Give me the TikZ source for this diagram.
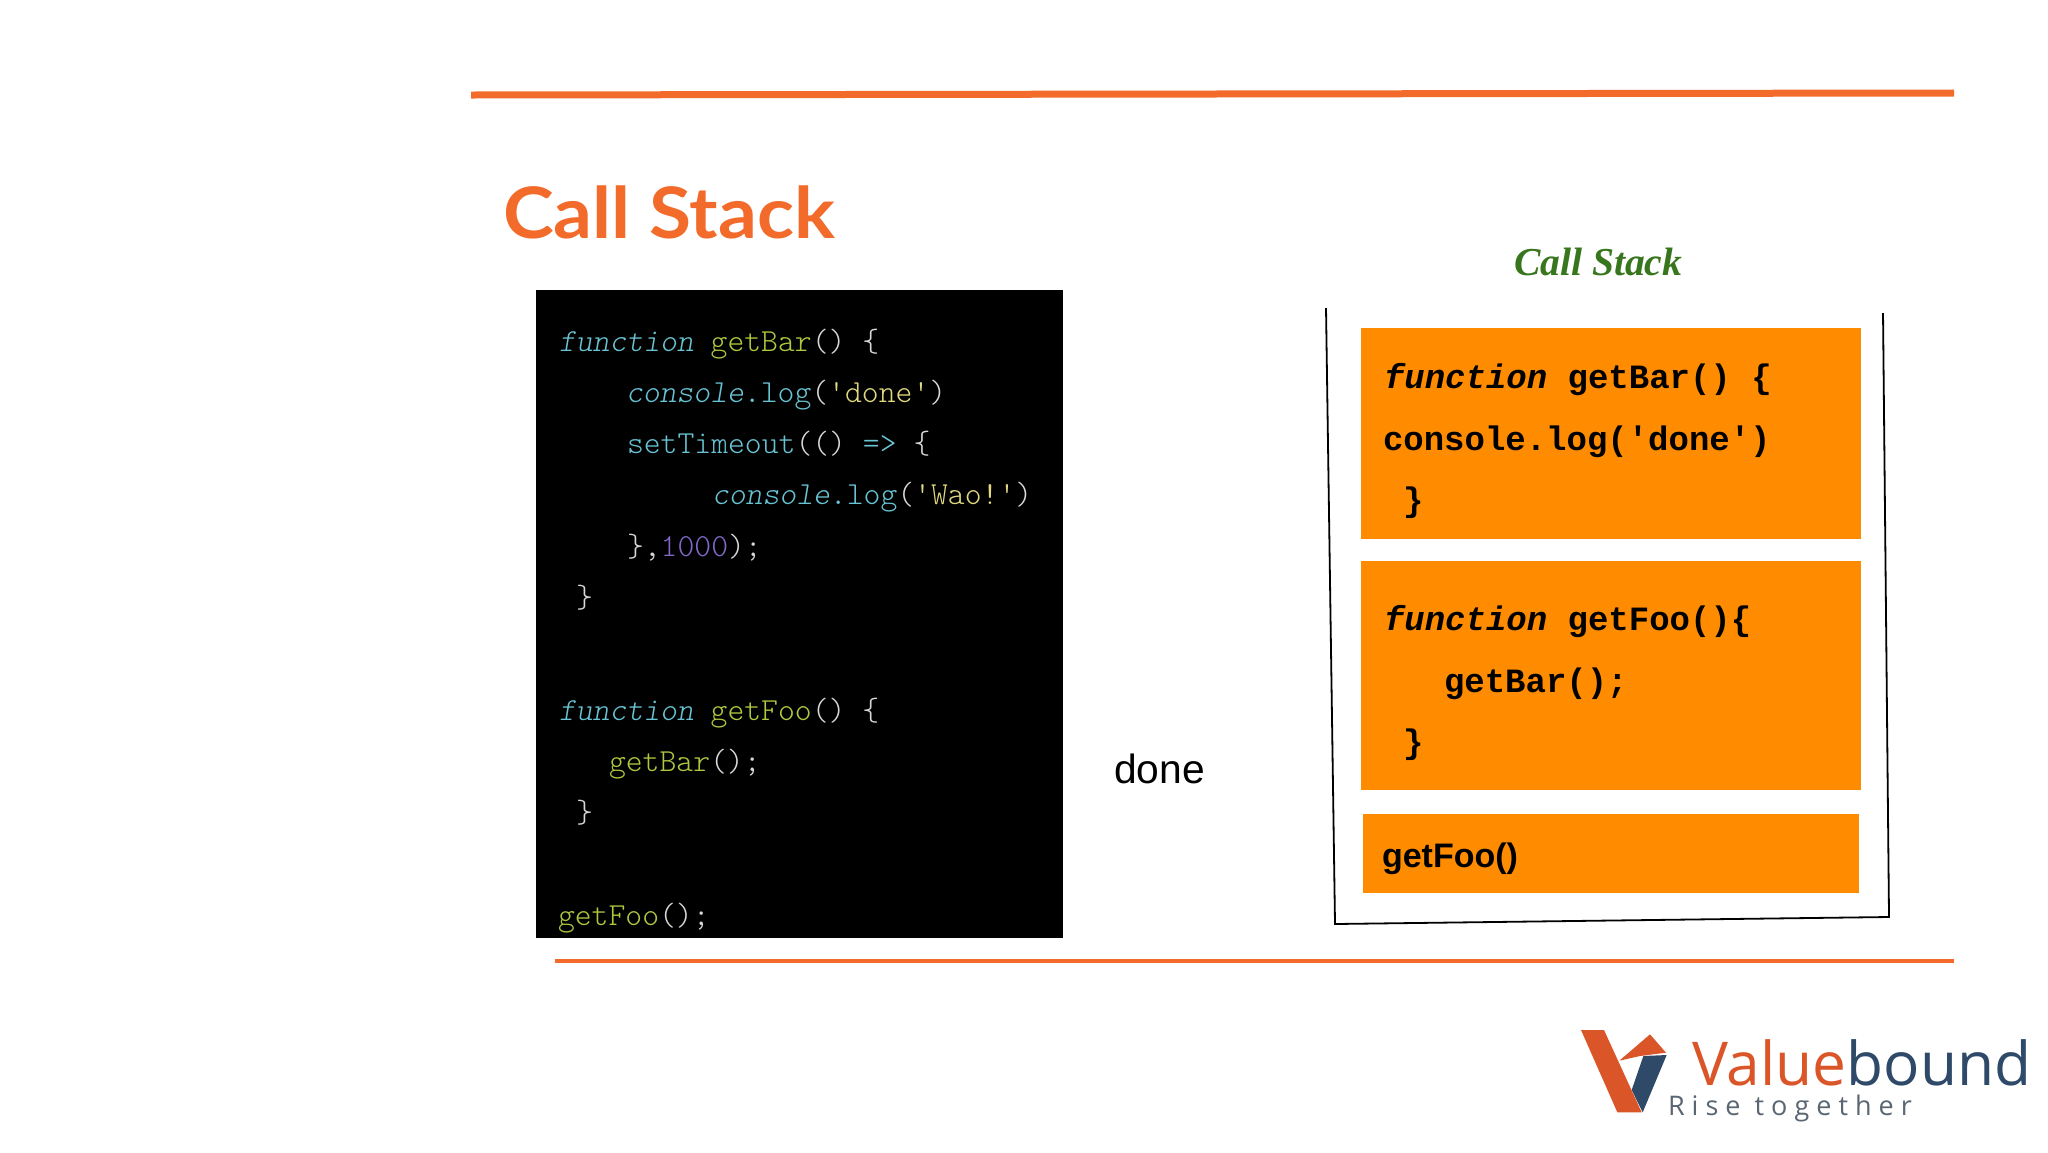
\documentclass[tikz,border=0pt]{standalone}
\usepackage{fontspec}
\setmainfont{Liberation Sans}
\setmonofont{Liberation Mono}
\newfontfamily\codefont{Latin Modern Mono Light}
\newfontfamily\titlefont[FakeStretch=1.08]{Lato}
\newfontfamily\serifhead{Liberation Serif}
\newfontfamily\logofont{Open Sans}
\newfontfamily\logospaced[LetterSpace=26]{Open Sans}
\definecolor{accent}{HTML}{F26B2B}
\definecolor{boxorange}{HTML}{FF8C00}
\definecolor{cteal}{HTML}{68C4D4}
\definecolor{cgreen}{HTML}{AEC840}
\definecolor{cgray}{HTML}{D8D8D8}
\definecolor{cyellow}{HTML}{E0D980}
\definecolor{cpurple}{HTML}{8268C8}
\definecolor{headgreen}{HTML}{38761D}
\definecolor{logoorange}{HTML}{DA5528}
\definecolor{logoblue}{HTML}{2F4A68}
\definecolor{logogray}{HTML}{5A6672}
\newcommand{\kw}[1]{\textcolor{cteal}{\textit{#1}}}
\newcommand{\tl}[1]{\textcolor{cteal}{#1}}
\newcommand{\fn}[1]{\textcolor{cgreen}{#1}}
\newcommand{\st}[1]{\textcolor{cyellow}{#1}}
\newcommand{\nm}[1]{\textcolor{cpurple}{#1}}
\tikzset{
  rule/.style={draw=accent,line cap=butt},
  txt/.style={inner sep=0pt,outer sep=0pt,anchor=base west},
  codeline/.style={txt,text=cgray,font=\codefont\fontsize{16.05}{18}\selectfont},
  stackline/.style={txt,text=black,font=\ttfamily\bfseries\fontsize{17}{20}\selectfont},
  frame/.style={inner sep=0pt,outer sep=0pt,anchor=north west,fill=boxorange},
  wall/.style={draw=black,line width=0.9pt}
}
\begin{document}
\begin{tikzpicture}[x=0.5pt,y=-0.5pt]
\useasboundingbox (0,0) rectangle (2048,1152);
% rules
\coordinate (ta) at (471,95); \coordinate (tb) at (1954,93);
\coordinate (ba) at (555,961); \coordinate (bb) at (1954,961);
\draw[rule,line width=3.5pt] (ta) -- (tb);
\draw[rule,line width=2pt] (ba) -- (bb);
% title
\node[txt,text=accent,font=\titlefont\bfseries\fontsize{35.5}{40}\selectfont] (title) at (503,238) {Call Stack};
% code panel
\node[inner sep=0pt,outer sep=0pt,anchor=north west,fill=black,minimum width=527pt*0.5,minimum height=648pt*0.5] (panel) at (535.5,290) {};
\node[codeline] (c1) at (559,351.5) {\kw{function} \fn{getBar}() \{};
\node[codeline] (c2) at (626,402.5) {\kw{console}\tl{.log}(\st{'done'})};
\node[codeline] (c3) at (627,453.5) {\tl{setTimeout}(() \tl{=>} \{};
\node[codeline] (c4) at (712,504.5) {\kw{console}\tl{.log}(\st{'Wao!'})};
\node[codeline] (c5) at (627,556.5) {\},\nm{1000});};
\node[codeline] (c6) at (576,607.5) {\}};
\node[codeline] (c7) at (559,720.5) {\kw{function} \fn{getFoo}() \{};
\node[codeline] (c8) at (609,771.5) {\fn{getBar}();};
\node[codeline] (c9) at (576,822.5) {\}};
\node[codeline] (c10) at (558,925) {\fn{getFoo}();};
% done
\node[txt,font=\fontsize{20.4}{24}\selectfont] (done) at (1114,783) {done};
% stack heading
\node[txt,text=headgreen,font=\serifhead\bfseries\itshape\fontsize{19.8}{24}\selectfont] (head) at (1514,275) {Call Stack};
% stack walls
\coordinate (wa) at (1326,308); \coordinate (wb) at (1335,924);
\coordinate (wc) at (1889,917); \coordinate (wd) at (1883,313);
\draw[wall,line join=miter] (wa) -- (wb) -- (wc) -- (wd);
% frames
\node[frame,minimum width=250pt,minimum height=105.5pt] (f1) at (1360.5,328) {};
\node[frame,minimum width=250pt,minimum height=114.5pt] (f2) at (1360.5,561) {};
\node[frame,minimum width=248pt,minimum height=39.5pt] (f3) at (1362.5,814) {};
\node[stackline] (s1) at (1384,388) {\textit{function} getBar() \{};
\node[stackline] (s2) at (1383,450) {console.log('done')};
\node[stackline] (s3) at (1403,511) {\}};
\node[stackline] (s4) at (1384,630) {\textit{function} getFoo()\{};
\node[stackline] (s5) at (1444,692) {getBar();};
\node[stackline] (s6) at (1403,753) {\}};
\node[txt,font=\bfseries\fontsize{17}{20}\selectfont] (s7) at (1382,867) {getFoo()};
% logo
\begin{scope}[shift={(1540,1000)},scale=1/3]
\fill[logoblue] (310,168) -- (380,165) -- (308,337) -- (275,270) -- cycle;
\fill[logoorange] (123,90) -- (192,90) -- (305,337) -- (232,337) -- cycle;
\fill[logoorange] (238,182) -- (330,103) -- (378,158) -- (300,168) -- cycle;
\end{scope}
\node[txt,font=\logofont\fontsize{30.2}{34}\selectfont] (lg) at (1692,1085) {\textcolor{logoorange}{Value}\textcolor{logoblue}{bound}};
\node[txt,text=logogray,font=\logospaced\fontsize{13.5}{16}\selectfont] (lt) at (1668,1115) {Rise together};
\end{tikzpicture}
\end{document}
